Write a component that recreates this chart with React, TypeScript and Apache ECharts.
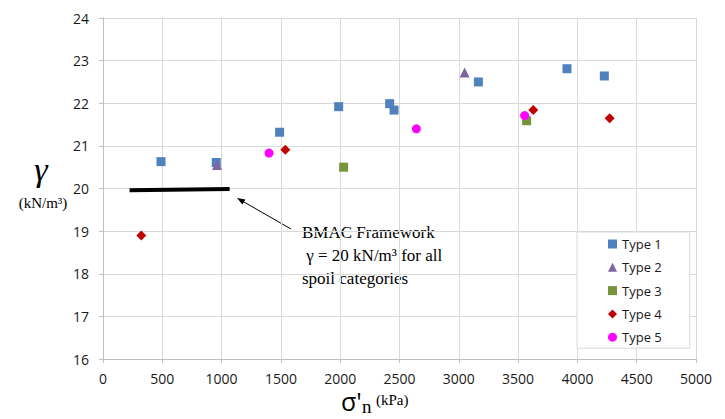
import React, { useEffect, useRef } from "react";
import * as echarts from "echarts";

const type1: number[][] = [
  [489, 20.63], [955, 20.61], [1489, 21.32], [1987, 21.92], [2417, 21.99],
  [2454, 21.84], [3165, 22.5], [3912, 22.81], [4227, 22.64],
];
const type2: number[][] = [[961, 20.55], [3049, 22.72]];
const type3: number[][] = [[2029, 20.5], [3572, 21.59]];
const type4: number[][] = [[323, 18.9], [1537, 20.91], [3628, 21.84], [4272, 21.65]];
const type5: number[][] = [[1400, 20.83], [2642, 21.4], [3555, 21.71]];
const bmacLine: number[][] = [[224, 19.96], [1068, 19.99]];

const seriesNames = ["Type 1", "Type 2", "Type 3", "Type 4", "Type 5"];
const seriesData = [type1, type2, type3, type4, type5];
const seriesColors = ["#4f81bd", "#8064a2", "#77933c", "#c00000", "#ff00ff"];
const seriesSymbols = ["rect", "triangle", "rect", "diamond", "circle"];
const seriesSizes = [9, 10, 9, 10, 9];

const annotationLines = ["BMAC Framework", " γ = 20 kN/m³ for all", "spoil categories"];

export default function App() {
  const ref = useRef<HTMLDivElement>(null);
  useEffect(() => {
    if (!ref.current) return;
    const chart = echarts.init(ref.current, undefined, { renderer: "svg" });
    const sansFont = "'Open Sans', sans-serif";
    const serifFont = "'Liberation Serif', 'Times New Roman', serif";
    const scatter = seriesNames.map((name, i) => ({
      name,
      type: "scatter",
      data: seriesData[i],
      symbol: seriesSymbols[i],
      symbolSize: seriesSizes[i],
      itemStyle: { color: seriesColors[i], opacity: 1 },
      z: 3 + i,
    }));
    chart.setOption({
      animation: false,
      backgroundColor: "#ffffff",
      grid: { left: 103, right: 29, top: 18, bottom: 60, containLabel: false },
      xAxis: {
        type: "value",
        min: 0,
        max: 5000,
        interval: 500,
        axisLine: { show: true, lineStyle: { color: "#bfbfbf", width: 1 } },
        axisTick: { show: true, length: 4, lineStyle: { color: "#bfbfbf" } },
        splitLine: { show: true, lineStyle: { color: "#d9d9d9", width: 1 } },
        axisLabel: {
          color: "#1a1a1a",
          fontFamily: sansFont,
          fontSize: 14,
          margin: 12,
          formatter: (v: number) => String(v),
        },
      },
      yAxis: {
        type: "value",
        min: 16,
        max: 24,
        interval: 1,
        axisLine: { show: true, lineStyle: { color: "#bfbfbf", width: 1 } },
        axisTick: { show: true, length: 4, lineStyle: { color: "#bfbfbf" } },
        splitLine: { show: true, lineStyle: { color: "#d9d9d9", width: 1 } },
        axisLabel: { color: "#1a1a1a", fontFamily: sansFont, fontSize: 14, margin: 14 },
      },
      legend: {
        data: seriesNames,
        orient: "vertical",
        left: 577,
        top: 232,
        padding: [5, 28, 4, 31],
        itemGap: 9.3,
        itemWidth: 9,
        itemHeight: 9,
        backgroundColor: "#ffffff",
        borderColor: "#d9d9d9",
        borderWidth: 1,
        borderRadius: 0,
        selectedMode: false,
        textStyle: { color: "#1a1a1a", fontFamily: sansFont, fontSize: 13, lineHeight: 14 },
      },
      series: [
        ...scatter,
        {
          name: "BMAC",
          type: "line",
          data: bmacLine,
          symbol: "none",
          silent: true,
          lineStyle: { color: "#000000", width: 4 },
          z: 2,
        },
      ],
      graphic: [
        {
          type: "line",
          shape: { x1: 291, y1: 229, x2: 241, y2: 200.3 },
          style: { stroke: "#000000", lineWidth: 1 },
        },
        {
          type: "polygon",
          shape: { points: [[237, 198], [245.4, 199.4], [242.4, 204.6]] },
          style: { fill: "#000000" },
        },
        ...annotationLines.map((t, i) => ({
          type: "text",
          x: 302,
          y: 232 + i * 23,
          style: {
            text: t,
            font: `17px ${serifFont}`,
            fill: "#000000",
            verticalAlign: "middle",
            align: "left",
          },
        })),
        {
          type: "text",
          x: 41,
          y: 169,
          style: {
            text: "γ",
            font: `italic 34px ${serifFont}`,
            fill: "#000000",
            align: "center",
            verticalAlign: "middle",
          },
        },
        {
          type: "text",
          x: 43,
          y: 203,
          style: {
            text: "(kN/m³)",
            font: `15px ${serifFont}`,
            fill: "#000000",
            align: "center",
            verticalAlign: "middle",
          },
        },
        {
          type: "text",
          x: 341,
          y: 401,
          style: {
            text: "σ'",
            font: `25px ${sansFont}`,
            fill: "#000000",
            align: "left",
            verticalAlign: "middle",
          },
        },
        {
          type: "text",
          x: 362,
          y: 406,
          style: {
            text: "n",
            font: `19px ${serifFont}`,
            fill: "#000000",
            align: "left",
            verticalAlign: "middle",
          },
        },
        {
          type: "text",
          x: 376,
          y: 400,
          style: {
            text: "(kPa)",
            font: `15px ${serifFont}`,
            fill: "#000000",
            align: "left",
            verticalAlign: "middle",
          },
        },
      ],
    });
    return () => chart.dispose();
  }, []);
  return (
    <div
      ref={ref}
      style={{ position: "fixed", left: 0, top: 0, width: 725, height: 419 }}
    />
  );
}
